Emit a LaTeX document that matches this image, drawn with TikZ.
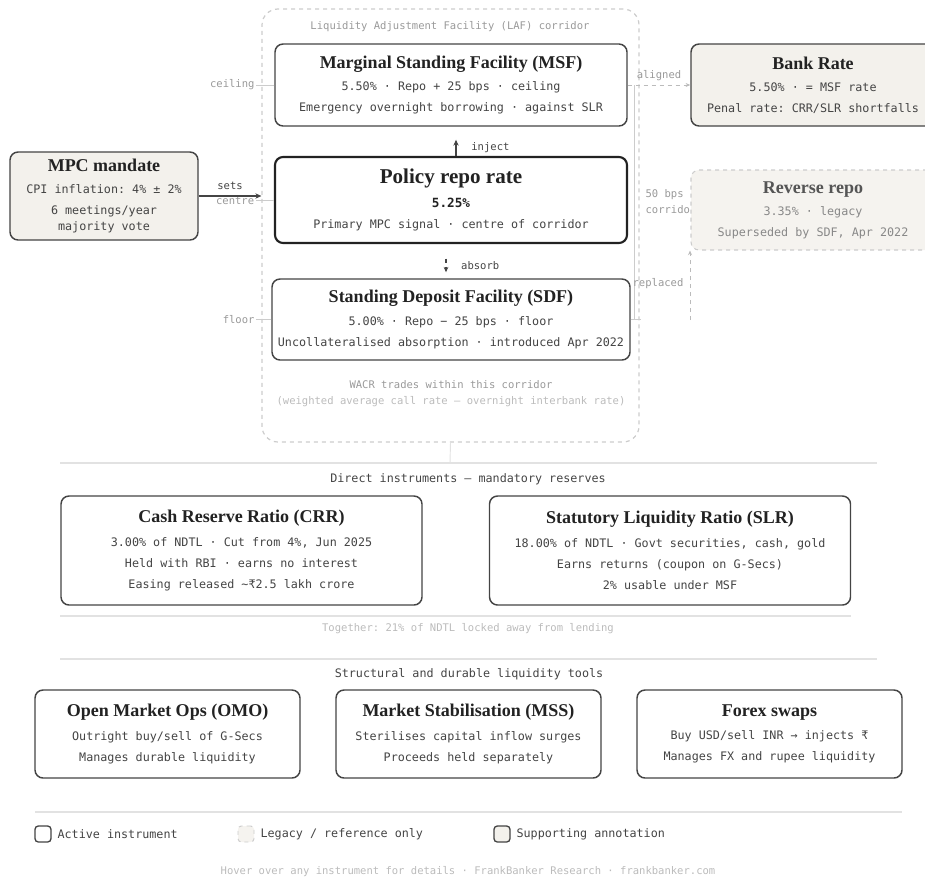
\documentclass[tikz,border=0pt]{standalone}
\usepackage{fontspec}
\setmainfont{Liberation Serif}
\setmonofont{DejaVu Sans Mono}
\usetikzlibrary{arrows.meta}

\definecolor{ink}{HTML}{222222}
\definecolor{body}{HTML}{444444}
\definecolor{edge}{HTML}{444444}
\definecolor{annot}{HTML}{999999}
\definecolor{faint}{HTML}{BBBBBB}
\definecolor{faintline}{HTML}{CCCCCC}
\definecolor{rule}{HTML}{E2E2E2}
\definecolor{paper}{HTML}{F3F1EC}
\definecolor{paperlight}{HTML}{F5F3EF}
\definecolor{oldink}{HTML}{555555}
\definecolor{oldbody}{HTML}{888888}

\newcommand\bodyfont{\fontsize{8.8}{15.75}\selectfont\ttfamily}
\newcommand\notefont{\fontsize{7.9}{12}\selectfont\ttfamily}
\newcommand\ttl[2][ink]{{\rmfamily\bfseries\fontsize{13.5}{16}\selectfont\color{#1}#2}}
\newcommand\bigttl[1]{{\rmfamily\bfseries\fontsize{15.8}{18}\selectfont\color{ink}#1}}

\tikzset{
  size/.style 2 args={minimum width=#1,minimum height=#2},
  box/.style={draw=edge,line width=1.1pt,rounded corners=6pt,fill=white,
    align=center,text=body,font=\bodyfont,inner sep=0pt},
  active/.style={box},
  signal/.style={box,draw=ink,line width=1.6pt},
  support/.style={box,fill=paper},
  legacy/.style={box,draw=faintline,dashed,line width=0.8pt,fill=paperlight,text=oldbody},
  corridor/.style={draw=faintline,dashed,line width=0.9pt,rounded corners=12pt},
  note/.style={font=\notefont,text=annot,inner sep=1pt},
  head/.style={font=\bodyfont,text=body,inner sep=1pt},
  tick/.style={draw=faintline,line width=0.7pt},
  rulerline/.style={draw=rule,line width=1.1pt},
  arr/.style={draw=edge,line width=1.1pt,-{Stealth[length=4.5pt,width=4pt]}},
  dasharr/.style={draw=edge,line width=0.8pt,dashed,-{Stealth[length=4pt,width=3.5pt]}},
  paledash/.style={draw=faint,line width=0.7pt,dashed,-{Stealth[length=3.5pt,width=3pt]}},
  keybox/.style={minimum size=12pt,inner sep=0pt,rounded corners=2.5pt,line width=1pt}
}

\begin{document}
\begin{tikzpicture}[x=0.75pt,y=-0.75pt]
\useasboundingbox (0,0) rectangle (925,882);

    % LAF corridor
    \node[corridor,size={282.75pt}{324.75pt}] (laf) at (450.5,225.5) {};
    \node[note] (laftitle) at (450,27) {Liquidity Adjustment Facility (LAF) corridor};

    \node[active,size={264pt}{61.5pt}] (msf) at (451,85)
      {\ttl{Marginal Standing Facility (MSF)}\\[1pt]
       5.50\% · Repo + 25 bps · ceiling\\
       Emergency overnight borrowing · against SLR};
    \node[signal,size={264pt}{64.5pt}] (repo) at (451,200)
      {\bigttl{Policy repo rate}\\[2pt]
       {\fontsize{9.5}{12}\selectfont\bfseries\color{ink}5.25\%}\\
       Primary MPC signal · centre of corridor};
    \node[active,size={268.5pt}{60.75pt}] (sdf) at (451,319.5)
      {\ttl{Standing Deposit Facility (SDF)}\\[1pt]
       5.00\% · Repo − 25 bps · floor\\
       Uncollateralised absorption · introduced Apr 2022};

    \node[note] (wacr) at (451,385) {WACR trades within this corridor};
    \node[note,text=faint] (wacrnote) at (451,402) {(weighted average call rate — overnight interbank rate)};

    % corridor ticks
    \draw[tick] (msf.west) -- ++(-18,0) node[note,anchor=east] (ceil) {ceiling};
    \draw[tick] (repo.west) -- ++(-18,0) node[note,anchor=east,yshift=-1pt] (centre) {centre};
    \draw[tick] (sdf.west) -- ++(-15,0) node[note,anchor=east] (floor) {floor};

    % inject / absorb
    \draw[arr,shorten >=9.75pt] ([xshift=3.75pt]repo.north) -- ([xshift=3.75pt]msf.south)
      node[note,text=body,pos=0.3,anchor=west,xshift=10pt] (inject) {inject};
    \draw[dasharr,shorten <=11pt,shorten >=4.5pt] ([xshift=-3.75pt]repo.south) -- ([xshift=-3.75pt]sdf.north)
      node[note,text=body,pos=0.64,anchor=west,xshift=10pt] (absorb) {absorb};

    % MPC
    \node[support,size={141pt}{66pt}] (mpc) at (104,196)
      {\ttl{MPC mandate}\\[1pt]
       CPI inflation: 4\% ± 2\%\\
       6 meetings/year\\[-3.75pt]
       majority vote};
    \draw[arr] (mpc.east) -- (mpc.east -| laf.west)
      node[note,text=body,midway,above,yshift=3pt] (sets) {sets};

    % right-hand annotations
    \coordinate (brk) at (634,0);
    \draw[tick] (msf.east -| brk) -- (sdf.east -| brk);
    \draw[tick] (sdf.east) -- ++(10,0);
    \node[note,anchor=north west,align=left] (bps) at (644,188) {50 bps\\corridor};

    \node[support,size={183pt}{61.5pt}] (bank) at (813,85)
      {\ttl{Bank Rate}\\[1pt]
       5.50\% · = MSF rate\\
       Penal rate: CRR/SLR shortfalls};
    \draw[paledash] (msf.east) -- (bank.west)
      node[note,midway,above,yshift=2pt] (aligned) {aligned};

    \node[legacy,size={183pt}{60pt}] (revrepo) at (813,210)
      {\ttl[oldink]{Reverse repo}\\[1pt]
       3.35\% · legacy\\
       Superseded by SDF, Apr 2022};
    \coordinate (repfoot) at (690,320);
    \draw[paledash] (repfoot) -- (repfoot |- revrepo.south);
    \node[note] (replaced) at (658,284) {replaced};

    % direct instruments
    \draw[tick,draw=rule] (laf.south) -- (450,463);
    \draw[rulerline] (60,463) -- (877,463);
    \node[head] (direct) at (468,479) {Direct instruments — mandatory reserves};

    \node[active,size={270.75pt}{81.75pt}] (crr) at (241.5,550.5)
      {\ttl{Cash Reserve Ratio (CRR)}\\[2pt]
       3.00\% of NDTL · Cut from 4\%, Jun 2025\\
       Held with RBI · earns no interest\\
       Easing released \textasciitilde₹2.5 lakh crore};
    \node[active,size={270.75pt}{81.75pt}] (slr) at (670,550.5)
      {\ttl{Statutory Liquidity Ratio (SLR)}\\[2pt]
       18.00\% of NDTL · Govt securities, cash, gold\\
       Earns returns (coupon on G-Secs)\\
       2\% usable under MSF};

    \draw[rulerline] (60,616) -- (851,616);
    \node[note,text=faint] (together) at (468,629) {Together: 21\% of NDTL locked away from lending};

    % structural tools
    \draw[rulerline] (60,659) -- (877,659);
    \node[head] (structural) at (469,674) {Structural and durable liquidity tools};

    \node[active,size={198.75pt}{66pt}] (omo) at (167.5,734)
      {\ttl{Open Market Ops (OMO)}\\[2pt]
       Outright buy/sell of G-Secs\\
       Manages durable liquidity};
    \node[active,size={198.75pt}{66pt}] (mss) at (468.5,734)
      {\ttl{Market Stabilisation (MSS)}\\[2pt]
       Sterilises capital inflow surges\\
       Proceeds held separately};
    \node[active,size={198.75pt}{66pt}] (fx) at (769.5,734)
      {\ttl{Forex swaps}\\[2pt]
       Buy USD/sell INR → injects ₹\\
       Manages FX and rupee liquidity};

    % legend
    \draw[rulerline] (35,812) -- (902,812);
    \node[keybox,draw=edge,fill=white] (keyactive) at (43,834) {};
    \node[head,anchor=west] (keyactivetxt) at (56,834) {Active instrument};
    \node[keybox,draw=faintline,dashed,fill=paperlight,line width=0.7pt] (keylegacy) at (246,834) {};
    \node[head,anchor=west] (keylegacytxt) at (259,834) {Legacy / reference only};
    \node[keybox,draw=edge,fill=paper] (keysupport) at (502,834) {};
    \node[head,anchor=west] (keysupporttxt) at (515,834) {Supporting annotation};

    \node[note,text=faint] (footer) at (468,872) {Hover over any instrument for details · FrankBanker Research · frankbanker.com};
\end{tikzpicture}
\end{document}
